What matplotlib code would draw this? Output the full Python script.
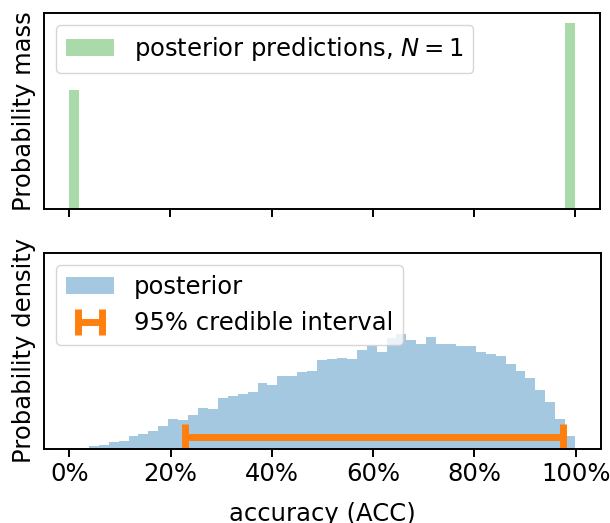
import numpy as np
import matplotlib
matplotlib.use("Agg")
import matplotlib.pyplot as plt
from matplotlib.ticker import PercentFormatter

# ---- data ----
# posterior predictions, N = 1 : probability mass at the two possible outcomes
pred_values = [0.0, 1.0]
pred_mass = [0.389, 0.611]

# posterior histogram of accuracy (50 bins over the sample range)
post_lo, post_hi = 0.019, 0.999
post_heights = [0.5, 2.3, 3.3, 6.3, 7.6, 12.3, 14.3, 17.6, 22.3, 29.3,
                28.3, 34.0, 41.0, 40.0, 51.0, 52.3, 54.3, 56.3, 65.3, 63.3,
                72.3, 72.3, 76.3, 77.3, 88.3, 90.0, 91.0, 90.0, 99.0, 102.3,
                96.3, 111.0, 115.0, 108.3, 105.0, 111.6, 104.3, 104.3, 102.3, 102.3,
                96.3, 94.3, 92.3, 84.3, 77.3, 70.3, 58.3, 46.3, 29.3, 12.3]

# 95% credible interval
ci_lo, ci_hi = 0.229, 0.975

xticks = [0.0, 0.2, 0.4, 0.6, 0.8, 1.0]

# ---- style ----
FS = 17.5
plt.rcParams.update({
    "font.family": ["DejaVu Sans"],
    "font.size": FS,
    "axes.linewidth": 1.4,
    "xtick.major.width": 1.4,
    "xtick.major.size": 6,
    "xtick.major.pad": 4,
})

fig = plt.figure(figsize=(6.1, 5.23), dpi=100)
ax1 = fig.add_axes([0.0721, 0.5998, 0.912, 0.3748])
ax2 = fig.add_axes([0.0721, 0.1424, 0.913, 0.3732])

# top: posterior predictions
pred_bins = np.linspace(0, 1, 51)
ax1.hist(pred_values, bins=pred_bins, weights=pred_mass, color="tab:green",
         alpha=0.4, label="posterior predictions, $N = 1$")
ax1.set_xticks(xticks)
ax1.set_xticklabels([])
ax1.set_yticks([])
ax1.set_ylabel("Probability mass", labelpad=6)
ax1.legend(loc="upper left", fontsize=FS)

# bottom: posterior density
edges = np.linspace(post_lo, post_hi, len(post_heights) + 1)
centers = 0.5 * (edges[:-1] + edges[1:])
heights = np.array(post_heights)
density = heights / (heights.sum() * (edges[1] - edges[0]))
ax2.hist(centers, bins=edges, weights=density, color="tab:blue", alpha=0.4,
         label="posterior")
ymax = density.max()
mid = 0.5 * (ci_lo + ci_hi)
ax2.errorbar([mid], [0.1026 * ymax], xerr=[[mid - ci_lo], [ci_hi - mid]],
             fmt="none", color="tab:orange", elinewidth=5, capsize=9.5,
             capthick=5, label="95% credible interval")
ax2.set_ylim(0, 1.697 * ymax)
ax2.set_xlim(-0.05, 1.05)
ax1.set_xlim(-0.05, 1.05)
ax2.set_xticks(xticks)
ax2.xaxis.set_major_formatter(PercentFormatter(1.0, decimals=0))
ax2.set_yticks([])
ax2.set_ylabel("Probability density", labelpad=6)
ax2.set_xlabel("accuracy (ACC)", labelpad=11)
ax2.legend(loc="upper left", fontsize=FS)

fig.savefig("out.png", dpi=100)
